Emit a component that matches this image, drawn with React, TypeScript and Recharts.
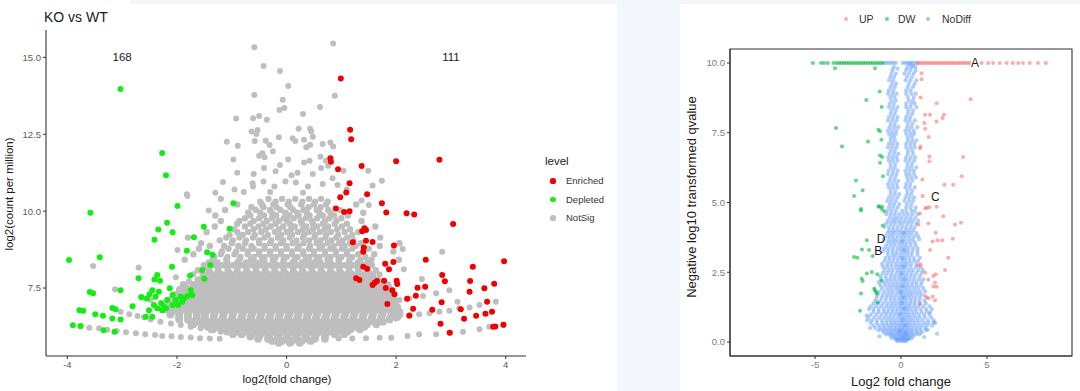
import React from "react";
import { ScatterChart, Scatter, XAxis, YAxis, ReferenceArea } from "recharts";

type Pt = { x: number; y: number };
type Tag = { x: number; y: number; label: string };

// ---------- left panel: KO vs WT ----------
const xTicksLeft = [-4, -2, 0, 2, 4];
const yTicksLeft = [7.5, 10, 12.5, 15];

const countLabels: Tag[] = [
  { x: -3, y: 15, label: "168" },
  { x: 3, y: 15, label: "111" },
];

const depleted: number[][] = [
  [-3.03, 13.97], [-2.27, 11.89], [-2.2, 11.17],
  [-3.58, 9.95], [-3.97, 8.41], [-3.41, 8.5], [-1.99, 10.17], [-0.97, 10.26],
  [-2.18, 9.62], [-2.34, 9.4], [-2.08, 9.31], [-2.41, 9.07], [-1.69, 9.15],
  [-1.51, 9.49], [-1.04, 9.43], [-1.82, 8.71], [-1.45, 8.66], [-1.35, 8.58],
  [-1.39, 8.25], [-1.54, 8.09], [-2.09, 8.19], [-1.76, 7.91], [-1.5, 7.8],
  [-2.7, 7.82], [-2.41, 7.78], [-2.36, 7.92], [-2.31, 7.74], [-3.03, 7.43],
  [-3.59, 7.37], [-3.53, 7.33], [-2.81, 6.91], [-3.78, 6.78], [-3.71, 6.76],
  [-3.49, 6.65], [-3.35, 6.6], [-3.18, 6.85], [-3.12, 6.81], [-3.18, 6.51],
  [-3.03, 6.48], [-3.9, 6.29], [-3.76, 6.26], [-3.34, 6.13], [-3.14, 6.08],
  [-2.55, 7.16], [-2.5, 7.3], [-2.45, 7.43], [-2.39, 7.22], [-2.33, 7.38],
  [-2.28, 7.0], [-2.24, 6.89], [-2.18, 7.11], [-2.13, 7.49], [-2.08, 7.27],
  [-2.02, 7.11], [-1.98, 6.95], [-1.93, 7.22], [-1.87, 7.16], [-1.81, 7.24],
  [-1.75, 7.43], [-2.42, 6.95], [-2.36, 6.84], [-2.51, 6.78], [-2.45, 6.57],
  [-2.27, 6.78], [-2.2, 6.84], [-2.08, 6.95], [-1.9, 7.05], [-1.72, 7.27],
  [-2.65, 7.2], [-2.57, 6.57],
];

const enriched: number[][] = [
  [0.99, 14.31], [1.16, 12.65], [1.18, 12.34], [0.8, 11.72], [0.81, 11.61],
  [0.94, 11.36], [1.37, 11.47], [2.0, 11.62], [2.79, 11.67], [1.15, 10.91],
  [1.09, 10.61], [1.47, 10.55], [0.98, 10.45], [1.74, 10.26], [0.9, 10.09],
  [1.05, 9.97], [1.15, 10.0], [1.82, 9.96], [2.19, 9.93], [2.33, 9.89],
  [3.04, 9.58], [1.42, 9.44], [1.45, 9.39], [1.38, 9.35], [1.21, 8.99],
  [1.45, 9.04], [1.57, 9.0], [1.41, 8.82], [1.4, 8.68], [1.96, 8.88],
  [2.54, 8.42], [3.97, 8.37], [1.8, 8.29], [1.95, 8.35], [1.87, 8.11],
  [1.4, 8.19], [1.47, 8.13], [3.4, 8.19], [2.84, 7.92], [2.89, 7.72],
  [1.27, 7.82], [1.33, 7.76], [1.61, 7.67], [1.65, 7.73], [1.57, 7.6],
  [1.78, 7.74], [1.81, 7.5], [2.01, 7.74], [2.02, 7.63], [1.93, 7.43],
  [1.97, 7.3], [2.39, 7.51], [2.53, 7.54], [2.36, 7.25], [3.35, 7.73],
  [3.34, 7.38], [3.61, 7.49], [3.79, 7.64], [3.66, 7.05], [2.83, 7.04],
  [2.2, 7.15], [1.84, 6.98], [2.31, 6.83], [2.66, 6.79], [2.24, 6.61],
  [3.18, 6.81], [3.24, 6.5], [3.46, 6.6], [3.63, 6.66], [3.75, 6.73],
  [2.81, 6.34], [3.77, 6.24], [3.81, 6.25], [3.96, 6.31], [2.98, 6.05],
];

const notSigScattered: number[][] = [
  [-0.59, 15.33], [-0.42, 14.72], [-0.59, 13.78], [-0.92, 13.01], [-0.61, 13.02],
  [-0.5, 13.09], [-0.36, 12.97], [-0.64, 12.59], [-0.53, 12.64], [-0.55, 12.51],
  [-1.09, 12.26], [-0.89, 12.13], [-0.58, 12.28], [-0.38, 12.29], [-0.31, 12.15],
  [-0.97, 11.68], [-0.44, 11.88], [-0.5, 11.8], [-0.4, 11.75], [-0.9, 11.25],
  [-0.6, 11.21], [-0.41, 11.4], [-1.16, 10.95], [-0.62, 10.91], [-0.42, 10.96],
  [-0.61, 10.8], [-0.22, 10.8], [-1.82, 10.55], [-0.25, 11.95], [-0.2, 11.3],
  [-0.95, 10.7], [-0.78, 10.62], [-1.3, 10.6],
  [0.85, 15.45], [-0.12, 14.56], [0.03, 14.07], [0.88, 13.75], [-0.07, 13.62],
  [-0.13, 13.29], [-0.04, 13.35], [0.61, 13.39], [0.3, 13.16], [0.22, 12.68],
  [0.43, 12.68], [0.45, 12.6], [-0.14, 12.4], [0.11, 12.37], [0.16, 12.28],
  [0.32, 12.32], [0.48, 12.42], [0.36, 12.08], [0.43, 12.16], [0.66, 12.18],
  [0.8, 12.23], [0.85, 12.1], [0.03, 11.68], [-0.12, 11.5], [0.32, 11.58],
  [0.42, 11.64], [0.62, 11.77], [0.72, 11.64], [1.04, 11.31], [1.49, 11.31],
  [1.74, 10.99], [0.09, 11.17], [0.2, 11.25], [0.48, 11.21], [0.63, 11.4],
  [0.76, 11.48], [-0.02, 10.96], [0.17, 10.93], [0.39, 10.8], [0.66, 10.88],
  [0.84, 11.07], [0.93, 10.85], [1.57, 10.83], [1.37, 10.35], [1.5, 10.2],
  [1.1, 10.7], [-0.3, 10.62], [0.3, 10.6],
  [-3.53, 8.22], [-3.13, 7.46], [-2.7, 8.17], [-1.99, 8.74], [-1.81, 10.49],
  [-1.42, 10.02], [-2.02, 7.85], [-1.7, 7.95], [-1.78, 7.72], [1.7, 7.95], [1.76, 7.7],
  [-3.76, 6.27], [-3.6, 6.21], [-3.42, 6.19], [-3.27, 6.14], [-3.1, 6.1],
  [-2.93, 6.06], [-2.75, 6.03], [-2.58, 6.0], [-2.4, 5.97], [-2.27, 5.94],
  [-2.1, 5.93], [-1.93, 5.91], [-1.75, 5.89], [-1.58, 5.87], [-1.4, 5.86],
  [-1.22, 5.85], [-3.03, 6.73], [-2.87, 6.65], [-2.72, 6.59], [-2.6, 6.55],
  [-2.48, 6.48], [-2.3, 6.4], [-2.11, 6.35], [-1.93, 6.3], [-1.75, 6.24],
  [-1.57, 6.19], [-1.38, 6.13], [-1.2, 6.08], [-2.65, 7.22], [-2.48, 7.11],
  [-2.3, 7.02], [-2.11, 6.95], [-1.93, 6.87],
  [0.95, 5.86], [1.2, 5.86], [1.45, 5.87], [1.7, 5.88], [1.91, 5.88],
  [2.21, 5.94], [2.42, 6.0], [2.73, 6.0], [2.97, 6.05], [3.22, 6.08],
  [3.52, 6.16], [3.7, 6.24], [3.95, 6.3], [2.0, 6.51], [2.24, 6.59],
  [2.42, 6.65], [2.61, 6.68], [2.79, 6.73], [2.97, 6.76], [3.15, 6.84],
  [3.34, 6.87], [3.52, 6.95], [3.82, 7.05], [1.88, 7.0], [2.06, 7.11],
  [2.24, 7.16], [2.49, 7.24], [2.73, 7.33], [2.97, 7.43], [3.12, 7.05],
  [2.84, 8.68], [2.12, 8.77], [2.14, 8.11], [2.47, 7.79],
];

// upper, looser part of the NotSig cloud, row by row (y, then x positions)
const notSigUpperRows: [number, number[]][] = [
  [10.4, [-1.2, -0.33, -0.08, 0.16, 0.41, 0.63]],
  [10.31, [-0.48, -0.2, 0.04, 0.29, 0.52, 0.75]],
  [10.22, [-0.9, -0.45, -0.24, 0.02, 0.27, 0.5, 0.72, 1.27]],
  [10.13, [-0.64, -0.42, -0.18, 0.07, 0.4, 0.62]],
  [10.04, [-1.12, -0.56, -0.3, -0.11, 0.12, 0.31, 0.55, 0.76, 0.97]],
  [9.95, [-0.7, -0.48, -0.27, -0.02, 0.2, 0.37, 0.6, 0.8, 1.4]],
  [9.86, [-1.3, -0.66, -0.41, -0.19, 0.05, 0.22, 0.42, 0.66, 0.87, 1.12]],
  [9.77, [-0.76, -0.5, -0.26, -0.05, 0.13, 0.35, 0.56, 0.78, 1.0]],
  [9.68, [-1.2, -0.86, -0.6, -0.36, -0.14, 0.01, 0.26, 0.46, 0.7, 0.91, 1.37]],
  [9.59, [-0.9, -0.66, -0.42, -0.2, 0.06, 0.28, 0.48, 0.66, 0.88, 1.1]],
  [9.5, [-1.31, -0.76, -0.51, -0.29, -0.06, 0.15, 0.36, 0.56, 0.76, 1.01, 1.62]],
  [9.41, [-0.96, -0.6, -0.38, -0.14, 0.08, 0.3, 0.48, 0.7, 0.92, 1.16]],
  [9.32, [-1.46, -0.9, -0.7, -0.46, -0.21, 0.0, 0.21, 0.41, 0.61, 0.81, 1.06, 1.31]],
  [9.23, [-1.04, -0.8, -0.58, -0.34, -0.1, 0.1, 0.32, 0.52, 0.72, 0.94, 1.2]],
  [9.14, [-1.8, -1.1, -0.86, -0.61, -0.4, -0.16, 0.06, 0.3, 0.51, 0.71, 0.91, 1.11, 1.71]],
  [9.05, [-1.22, -0.98, -0.74, -0.5, -0.28, -0.06, 0.18, 0.41, 0.62, 0.82, 1.02, 1.22]],
  [8.96, [-1.56, -1.0, -0.76, -0.5, -0.3, -0.1, 0.11, 0.31, 0.55, 0.75, 0.96, 1.16, 1.36, 2.06]],
  [8.87, [-1.4, -1.14, -0.88, -0.64, -0.4, -0.2, 0.0, 0.22, 0.43, 0.65, 0.86, 1.06, 1.26, 1.7]],
  [8.78, [-1.6, -1.06, -0.8, -0.6, -0.4, -0.2, 0.0, 0.2, 0.41, 0.6, 0.8, 1.01, 1.2, 1.5]],
  [8.69, [-1.18, -0.92, -0.7, -0.5, -0.3, -0.1, 0.1, 0.3, 0.5, 0.7, 0.9, 1.1, 1.4, 1.95]],
  [8.6, [-1.7, -1.2, -0.95, -0.71, -0.5, -0.3, -0.1, 0.1, 0.31, 0.5, 0.7, 0.9, 1.1, 1.31, 1.6]],
  [8.51, [-1.32, -1.08, -0.84, -0.6, -0.4, -0.2, 0.0, 0.2, 0.41, 0.6, 0.8, 1.0, 1.2, 1.44]],
  [8.42, [-1.86, -1.35, -1.1, -0.86, -0.65, -0.45, -0.25, -0.05, 0.15, 0.35, 0.55, 0.75, 0.95, 1.15, 1.35, 1.55, 2.05]],
  [8.33, [-1.42, -1.26, -1.08, -0.9, -0.74, -0.56, -0.4, -0.22, -0.06, 0.11, 0.28, 0.46, 0.62, 0.8, 0.96, 1.14, 1.3, 1.48]],
  [8.24, [-1.51, -1.32, -1.17, -0.98, -0.83, -0.64, -0.49, -0.3, -0.15, 0.04, 0.19, 0.38, 0.53, 0.72, 0.87, 1.06, 1.21, 1.4, 1.56]],
  [8.16, [-1.46, -1.25, -1.08, -0.9, -0.74, -0.56, -0.4, -0.22, -0.06, 0.12, 0.28, 0.46, 0.62, 0.8, 0.96, 1.14, 1.3, 1.48]],
  [8.08, [-1.62, -1.41, -1.25, -1.07, -0.9, -0.73, -0.56, -0.39, -0.22, -0.05, 0.12, 0.29, 0.46, 0.63, 0.8, 0.97, 1.14, 1.31, 1.48, 1.63]],
];

// dense lower body of the NotSig cloud
const notSigCoreRows: [number, number[]][] = [
  [8.0, [-1.41, -1.24, -1.06, -0.9, -0.72, -0.55, -0.38, -0.21, -0.04, 0.13, 0.3, 0.47, 0.64, 0.81, 0.98, 1.15, 1.32, 1.49]],
  [7.92, [-1.52, -1.33, -1.16, -0.99, -0.81, -0.64, -0.47, -0.3, -0.13, 0.04, 0.21, 0.38, 0.55, 0.72, 0.89, 1.06, 1.23, 1.4, 1.57]],
  [7.84, [-1.51, -1.33, -1.16, -0.99, -0.82, -0.65, -0.48, -0.31, -0.14, 0.03, 0.2, 0.37, 0.54, 0.71, 0.88, 1.05, 1.22, 1.39, 1.56]],
  [7.76, [-1.61, -1.42, -1.24, -1.07, -0.9, -0.72, -0.55, -0.38, -0.21, -0.04, 0.13, 0.3, 0.47, 0.64, 0.81, 0.98, 1.15, 1.32, 1.49, 1.66]],
  [7.68, [-1.6, -1.42, -1.25, -1.08, -0.9, -0.73, -0.56, -0.39, -0.22, -0.05, 0.12, 0.29, 0.46, 0.63, 0.8, 0.97, 1.14, 1.31, 1.48, 1.65]],
  [7.6, [-1.88, -1.7, -1.51, -1.33, -1.16, -0.98, -0.81, -0.64, -0.47, -0.3, -0.12, 0.05, 0.22, 0.39, 0.56, 0.73, 0.9, 1.07, 1.24, 1.41, 1.58, 1.74, 1.84]],
  [7.52, [-1.84, -1.69, -1.51, -1.33, -1.16, -0.98, -0.81, -0.64, -0.46, -0.29, -0.12, 0.05, 0.22, 0.39, 0.56, 0.73, 0.9, 1.07, 1.24, 1.41, 1.58, 1.75, 1.86]],
  [7.44, [-1.95, -1.78, -1.6, -1.42, -1.24, -1.07, -0.89, -0.72, -0.55, -0.38, -0.21, -0.04, 0.13, 0.3, 0.47, 0.64, 0.81, 0.98, 1.15, 1.32, 1.49, 1.66, 1.83]],
  [7.36, [-1.92, -1.77, -1.6, -1.42, -1.24, -1.07, -0.89, -0.72, -0.55, -0.37, -0.2, -0.03, 0.14, 0.31, 0.48, 0.65, 0.82, 0.99, 1.16, 1.33, 1.5, 1.67, 1.86]],
  [7.28, [-2.02, -1.86, -1.68, -1.5, -1.33, -1.15, -0.98, -0.81, -0.63, -0.46, -0.29, -0.12, 0.05, 0.22, 0.39, 0.56, 0.73, 0.9, 1.07, 1.24, 1.41, 1.58, 1.75, 1.9]],
  [7.2, [-1.98, -1.85, -1.68, -1.5, -1.33, -1.15, -0.98, -0.81, -0.63, -0.46, -0.29, -0.12, 0.05, 0.22, 0.39, 0.56, 0.73, 0.9, 1.07, 1.24, 1.41, 1.58, 1.75, 1.92]],
  [7.12, [-2.1, -1.93, -1.76, -1.59, -1.41, -1.24, -1.06, -0.89, -0.72, -0.55, -0.38, -0.2, -0.03, 0.14, 0.31, 0.48, 0.65, 0.82, 0.99, 1.16, 1.33, 1.5, 1.67, 1.84, 1.96]],
  [7.04, [-2.05, -1.92, -1.75, -1.58, -1.41, -1.24, -1.06, -0.89, -0.71, -0.54, -0.37, -0.2, -0.03, 0.14, 0.31, 0.48, 0.65, 0.82, 0.99, 1.16, 1.33, 1.5, 1.67, 1.84, 1.98]],
  [6.96, [-2.16, -1.99, -1.84, -1.67, -1.5, -1.32, -1.15, -0.98, -0.8, -0.63, -0.46, -0.29, -0.12, 0.05, 0.22, 0.39, 0.56, 0.73, 0.9, 1.07, 1.24, 1.41, 1.58, 1.75, 1.92]],
  [6.88, [-2.12, -1.98, -1.83, -1.66, -1.49, -1.32, -1.15, -0.97, -0.8, -0.63, -0.46, -0.28, -0.11, 0.06, 0.23, 0.4, 0.57, 0.74, 0.91, 1.08, 1.25, 1.42, 1.59, 1.76, 1.93, 2.02]],
  [6.8, [-2.22, -2.06, -1.9, -1.75, -1.58, -1.41, -1.24, -1.06, -0.89, -0.72, -0.55, -0.37, -0.2, -0.03, 0.14, 0.31, 0.48, 0.65, 0.82, 0.99, 1.16, 1.33, 1.5, 1.67, 1.84, 2.0]],
  [6.72, [-2.1, -1.96, -1.8, -1.64, -1.48, -1.31, -1.14, -0.97, -0.8, -0.63, -0.46, -0.29, -0.11, 0.06, 0.23, 0.4, 0.57, 0.74, 0.91, 1.08, 1.25, 1.42, 1.59, 1.76, 1.93, 2.06]],
  [6.64, [-2.12, -1.96, -1.8, -1.64, -1.49, -1.32, -1.15, -0.98, -0.8, -0.63, -0.46, -0.29, -0.12, 0.05, 0.22, 0.39, 0.56, 0.73, 0.9, 1.07, 1.24, 1.41, 1.58, 1.75, 1.93, 2.06]],
  [6.56, [-1.96, -1.8, -1.64, -1.49, -1.33, -1.16, -0.99, -0.82, -0.65, -0.48, -0.31, -0.14, 0.03, 0.2, 0.37, 0.54, 0.71, 0.88, 1.05, 1.22, 1.39, 1.56, 1.73, 1.9, 2.02]],
  [6.48, [-1.96, -1.8, -1.65, -1.49, -1.33, -1.17, -1.0, -0.83, -0.66, -0.49, -0.32, -0.15, 0.02, 0.19, 0.36, 0.53, 0.7, 0.87, 1.04, 1.21, 1.38, 1.55, 1.72, 1.88]],
  [6.4, [-1.75, -1.59, -1.44, -1.28, -1.12, -0.95, -0.78, -0.61, -0.44, -0.27, -0.1, 0.07, 0.24, 0.41, 0.58, 0.75, 0.92, 1.09, 1.26, 1.43, 1.6, 1.76]],
  [6.32, [-1.7, -1.54, -1.39, -1.23, -1.07, -0.91, -0.74, -0.57, -0.4, -0.23, -0.06, 0.11, 0.28, 0.45, 0.62, 0.79, 0.96, 1.13, 1.3, 1.47, 1.64]],
  [6.24, [-1.44, -1.28, -1.12, -0.96, -0.8, -0.63, -0.46, -0.29, -0.12, 0.05, 0.22, 0.39, 0.56, 0.73, 0.9, 1.07, 1.24, 1.42]],
  [6.16, [-1.34, -1.19, -1.03, -0.87, -0.7, -0.53, -0.36, -0.19, -0.02, 0.15, 0.32, 0.49, 0.66, 0.83, 1.0, 1.17, 1.34]],
  [6.08, [-1.08, -0.92, -0.76, -0.59, -0.42, -0.25, -0.08, 0.09, 0.26, 0.43, 0.6, 0.77, 0.94, 1.11]],
  [6.0, [-0.98, -0.82, -0.65, -0.48, -0.31, -0.14, 0.03, 0.2, 0.37, 0.54, 0.71, 0.88, 1.05]],
  [5.92, [-0.66, -0.5, -0.33, -0.16, 0.01, 0.18, 0.35, 0.52, 0.7]],
  [5.85, [-0.52, -0.34, -0.17, 0.0, 0.17, 0.34, 0.52, 0.7]],
  [5.78, [-0.26, -0.08, 0.1, 0.28, 0.44]],
  [5.72, [-0.14, 0.06, 0.24]],
];

// ---------- right panel: qvalue volcano ----------
const xTicksRight = [-5, 0, 5];
const yTicksRight = [0, 2.5, 5, 7.5, 10];
const capValue = 10;

const upCapX = [
  0.99, 1.12, 1.25, 1.38, 1.51, 1.64, 1.77, 1.9, 2.03, 2.16, 2.29, 2.42, 2.55,
  2.68, 2.81, 2.94, 3.07, 3.2, 3.33, 3.46, 3.59, 3.72, 3.85, 3.98, 4.69, 5.07,
  5.36, 5.75, 6.14, 6.5, 6.82, 7.1, 7.49, 7.97, 8.43,
];
const dwCapX = [
  -5.13, -4.65, -4.48, -4.26, -3.93, -3.74, -3.6, -3.46, -3.32, -3.18, -3.04,
  -2.9, -2.76, -2.62, -2.48, -2.34, -2.2, -2.06, -1.92, -1.78, -1.64, -1.5,
  -1.36, -1.22, -1.08,
];
const noDiffCapX = [-1.0, -0.86, -0.72, -0.58, -0.44, -0.3, 0.1, 0.24, 0.38, 0.52, 0.66, 0.8, 0.94];

const upPoints: number[][] = [
  [1.2, 9.63], [1.2, 9.42], [1.14, 8.76], [2.07, 8.56], [4.05, 8.7], [1.4, 8.14],
  [1.69, 8.14], [2.5, 8.14], [2.42, 8.03], [2.07, 7.9], [1.36, 7.85], [1.41, 7.64],
  [1.61, 7.35], [1.14, 7.01], [1.1, 6.94], [1.65, 6.65], [1.65, 6.48], [3.62, 6.63],
  [3.53, 5.94], [1.24, 5.82], [2.52, 5.64], [3.04, 5.64], [1.26, 5.23], [1.49, 4.81],
  [2.07, 4.85], [1.41, 4.79], [1.65, 4.83], [2.46, 4.51], [1.1, 4.61], [1.59, 4.25],
  [1.01, 4.21], [3.14, 4.21], [3.49, 4.27], [2.02, 3.92], [2.4, 3.65], [2.13, 3.65],
  [1.84, 3.6], [3.01, 3.7], [1.69, 3.3], [2.75, 3.02], [1.03, 2.73], [1.14, 2.79],
  [2.56, 2.58], [1.4, 2.49], [1.88, 2.37], [2.02, 2.43], [1.59, 2.23], [1.98, 2.13],
  [1.88, 1.99], [2.07, 1.98], [1.4, 1.65], [1.59, 1.57], [1.84, 1.63], [1.98, 1.5],
  [1.1, 1.36],
];

const dwPoints: number[][] = [
  [-3.84, 9.81], [-1.51, 9.81], [-1.24, 8.98], [-2.02, 8.67], [-1.12, 8.42],
  [-3.78, 7.67], [-1.32, 7.61], [-1.22, 7.55], [-1.14, 7.25], [-1.92, 7.19],
  [-3.43, 7.01], [-1.22, 6.68], [-1.1, 6.63], [-1.22, 6.42], [-1.05, 5.94],
  [-2.62, 5.79], [-2.23, 5.44], [-2.73, 5.23], [-1.3, 4.87], [-1.1, 4.85],
  [-2.33, 4.77], [-2.33, 4.71], [-1.28, 4.85], [-1.12, 4.77], [-0.99, 4.69],
  [-1.06, 4.18], [-1.99, 3.65], [-2.27, 3.32], [-1.86, 3.3], [-2.73, 3.05],
  [-2.54, 3.02], [-1.65, 3.08], [-1.99, 2.46], [-1.7, 2.51], [-1.38, 2.43],
  [-1.14, 2.2], [-2.29, 2.27], [-2.23, 2.19], [-1.55, 1.92], [-1.45, 1.8],
  [-1.41, 1.74], [-1.53, 1.86], [-2.33, 1.74], [-1.36, 1.42], [-2.38, 1.12],
];

const noDiffScattered: number[][] = [
  [0.5, 9.95], [0.7, 9.9], [0.85, 9.72], [0.2, 9.62], [-0.2, 9.8],
  [0.12, 3.9], [0.05, 3.6], [0.18, 3.3], [0.08, 3.0], [0.15, 2.7], [0.02, 2.45],
  [0.2, 2.25], [0.1, 2.0], [0.0, 1.8], [0.15, 1.6], [0.05, 1.4], [0.2, 1.2],
  [-0.05, 1.0], [0.1, 0.8], [0.25, 0.6], [-0.1, 0.4], [0.3, 0.3], [0.12, 0.15],
  [-0.2, 0.1], [0.45, 0.1], [1.69, 1.06], [1.9, 0.7], [1.55, 0.45], [-2.0, 0.95],
  [-1.8, 0.5], [2.1, 0.3], [1.35, 0.18], [-1.25, 0.2],
];

const noDiffRows: [number, number[]][] = [
  [9.85, [-0.42, 0.36, 0.6, 0.84]],
  [9.74, [-0.5, 0.3, 0.55]],
  [9.62, [-0.56, -0.3, 0.46, 0.74]],
  [9.5, [-0.62, -0.4, 0.35, 0.64]],
  [9.38, [-0.7, -0.46, 0.26, 0.55, 0.9]],
  [9.26, [-0.52, -0.28, 0.46, 0.8]],
  [9.14, [-0.6, -0.36, 0.4, 0.7]],
  [9.02, [-0.7, -0.44, 0.3, 0.56]],
  [8.9, [-0.76, -0.5, -0.26, 0.3, 0.6, 0.86]],
  [8.78, [-0.62, -0.38, 0.4, 0.74]],
  [8.66, [-0.56, -0.3, 0.45, 0.7]],
  [8.54, [-0.66, -0.42, 0.3, 0.58, 0.8]],
  [8.42, [-0.7, -0.45, -0.2, 0.3, 0.55, 0.9]],
  [8.3, [-0.56, -0.3, 0.42, 0.7]],
  [8.18, [-0.6, -0.36, 0.4, 0.66]],
  [8.06, [-0.7, -0.46, -0.2, 0.3, 0.54]],
  [7.94, [-0.76, -0.5, -0.26, 0.26, 0.5, 0.8]],
  [7.82, [-0.6, -0.36, 0.4, 0.66]],
  [7.7, [-0.66, -0.4, -0.16, 0.36, 0.6, 0.95]],
  [7.58, [-0.76, -0.52, -0.28, 0.26, 0.48, 0.74]],
  [7.46, [-0.7, -0.5, -0.3, 0.3, 0.55, 0.76]],
  [7.34, [-0.6, -0.4, 0.4, 0.64]],
  [7.22, [-0.6, -0.36, 0.4, 0.65, 0.9]],
  [7.1, [-0.7, -0.48, -0.22, 0.3, 0.54, 0.78]],
  [6.98, [-0.76, -0.5, -0.26, 0.3, 0.56, 0.8]],
  [6.86, [-0.6, -0.36, 0.4, 0.66]],
  [6.74, [-0.66, -0.4, -0.16, 0.4, 0.7]],
  [6.62, [-0.74, -0.5, -0.26, 0.3, 0.56, 0.82]],
  [6.5, [-0.7, -0.46, -0.2, 0.26, 0.5, 0.76]],
  [6.38, [-0.6, -0.34, 0.38, 0.64]],
  [6.26, [-0.6, -0.36, 0.36, 0.6, 0.9]],
  [6.14, [-0.72, -0.46, -0.2, 0.26, 0.5, 0.74]],
  [6.02, [-0.76, -0.5, -0.26, 0.3, 0.5, 0.76]],
  [5.9, [-0.6, -0.34, 0.36, 0.6, 0.86]],
  [5.78, [-0.66, -0.4, -0.16, 0.4, 0.66]],
  [5.66, [-0.76, -0.5, -0.26, 0.3, 0.54]],
  [5.54, [-0.7, -0.46, -0.2, 0.26, 0.5, 0.8]],
  [5.42, [-0.6, -0.34, 0.36, 0.64]],
  [5.3, [-0.6, -0.36, -0.1, 0.36, 0.6]],
  [5.18, [-0.7, -0.46, -0.2, 0.26, 0.5, 0.76]],
  [5.06, [-0.8, -0.56, -0.3, 0.2, 0.46, 0.7]],
  [4.94, [-0.64, -0.4, -0.1, 0.34, 0.6]],
  [4.82, [-0.7, -0.46, -0.2, 0.3, 0.56, 0.86]],
  [4.7, [-0.8, -0.56, -0.3, 0.06, 0.3, 0.6, 0.8]],
  [4.58, [-0.86, -0.6, -0.36, -0.1, 0.16, 0.4, 0.66, 0.96]],
  [4.46, [-0.64, -0.4, -0.2, 0.04, 0.3, 0.56, 0.84]],
  [4.35, [-0.76, -0.5, -0.3, -0.06, 0.2, 0.46, 0.7, 1.0]],
  [4.24, [-0.86, -0.6, -0.36, -0.1, 0.1, 0.36, 0.6, 0.9]],
  [4.12, [-0.96, -0.7, -0.46, -0.2, 0.06, 0.3, 0.56, 0.8]],
  [4.0, [-0.7, -0.46, -0.24, 0.0, 0.26, 0.48, 0.72]],
  [3.9, [-0.8, -0.56, -0.36, -0.1, 0.16, 0.36, 0.6, 0.9]],
  [3.79, [-0.9, -0.66, -0.46, -0.2, 0.04, 0.26, 0.5, 0.76, 1.0]],
  [3.68, [-1.0, -0.7, -0.46, -0.26, 0.0, 0.2, 0.46, 0.7, 1.06]],
  [3.57, [-0.76, -0.56, -0.36, -0.14, 0.1, 0.32, 0.56, 0.8]],
  [3.46, [-0.86, -0.6, -0.36, -0.1, 0.1, 0.3, 0.56, 0.86]],
  [3.35, [-0.96, -0.74, -0.48, -0.2, 0.0, 0.2, 0.42, 0.7, 0.96]],
  [3.24, [-1.06, -0.76, -0.5, -0.26, 0.0, 0.2, 0.4, 0.66, 0.96]],
  [3.13, [-0.76, -0.5, -0.3, -0.06, 0.16, 0.38, 0.62, 0.96]],
  [3.02, [-0.9, -0.66, -0.4, -0.16, 0.06, 0.26, 0.5, 0.76, 1.1]],
  [2.91, [-0.96, -0.7, -0.46, -0.2, 0.06, 0.26, 0.5, 0.76, 1.0]],
  [2.8, [-1.1, -0.8, -0.56, -0.3, -0.06, 0.16, 0.36, 0.6, 0.9]],
  [2.69, [-1.04, -0.8, -0.56, -0.3, -0.1, 0.1, 0.3, 0.56, 0.86, 1.16]],
  [2.58, [-0.96, -0.7, -0.46, -0.2, 0.0, 0.2, 0.46, 0.7, 1.0, 1.26]],
  [2.47, [-1.06, -0.8, -0.54, -0.26, -0.04, 0.16, 0.38, 0.62, 0.9, 1.2]],
  [2.36, [-1.2, -0.9, -0.6, -0.36, -0.1, 0.1, 0.3, 0.56, 0.8, 1.1]],
  [2.25, [-1.16, -0.86, -0.62, -0.38, -0.14, 0.06, 0.28, 0.5, 0.76, 1.04, 1.3]],
  [2.14, [-1.3, -1.0, -0.76, -0.5, -0.26, 0.0, 0.2, 0.4, 0.66, 0.9, 1.2]],
  [2.03, [-1.2, -0.92, -0.66, -0.42, -0.2, 0.0, 0.2, 0.4, 0.64, 0.9, 1.16]],
  [1.92, [-1.1, -0.8, -0.56, -0.3, -0.1, 0.1, 0.3, 0.5, 0.76, 1.0, 1.3]],
  [1.81, [-1.26, -0.96, -0.7, -0.46, -0.2, 0.0, 0.2, 0.4, 0.62, 0.86, 1.1, 1.4]],
  [1.7, [-1.36, -1.06, -0.8, -0.56, -0.3, -0.06, 0.1, 0.3, 0.5, 0.7, 0.96, 1.2]],
  [1.59, [-1.42, -1.12, -0.86, -0.62, -0.4, -0.16, 0.04, 0.2, 0.4, 0.6, 0.84, 1.1, 1.5]],
  [1.48, [-1.5, -1.2, -0.9, -0.6, -0.36, -0.1, 0.1, 0.3, 0.56, 0.8, 1.06, 1.36]],
  [1.38, [-1.6, -1.34, -1.04, -0.76, -0.5, -0.26, -0.04, 0.16, 0.36, 0.56, 0.8, 1.1, 1.44]],
  [1.28, [-1.76, -1.46, -1.16, -0.86, -0.6, -0.36, -0.1, 0.1, 0.3, 0.5, 0.76, 1.0, 1.3, 1.66]],
  [1.18, [-1.86, -1.6, -1.3, -1.0, -0.72, -0.48, -0.22, 0.0, 0.2, 0.4, 0.6, 0.86, 1.14, 1.46, 1.8]],
  [1.08, [-1.6, -1.3, -1.0, -0.76, -0.5, -0.26, 0.0, 0.2, 0.4, 0.66, 0.9, 1.2, 1.5]],
  [0.98, [-1.76, -1.44, -1.14, -0.86, -0.6, -0.36, -0.12, 0.1, 0.3, 0.5, 0.76, 1.04, 1.34, 1.66]],
  [0.88, [-1.9, -1.56, -1.26, -0.96, -0.7, -0.46, -0.2, 0.0, 0.2, 0.4, 0.6, 0.86, 1.1, 1.4, 1.76]],
  [0.78, [-1.96, -1.7, -1.4, -1.1, -0.82, -0.58, -0.34, -0.1, 0.1, 0.3, 0.5, 0.7, 0.96, 1.24, 1.56, 1.9]],
  [0.68, [-1.76, -1.4, -1.1, -0.86, -0.6, -0.4, -0.2, 0.0, 0.16, 0.36, 0.56, 0.8, 1.06, 1.36, 1.6, 2.0]],
  [0.59, [-1.6, -1.3, -1.02, -0.78, -0.56, -0.32, -0.1, 0.08, 0.26, 0.46, 0.7, 0.96, 1.22, 1.5, 1.8]],
  [0.5, [-1.5, -1.2, -0.96, -0.7, -0.5, -0.3, -0.1, 0.06, 0.2, 0.4, 0.6, 0.86, 1.1, 1.4]],
  [0.42, [-1.3, -1.06, -0.84, -0.62, -0.42, -0.22, -0.04, 0.12, 0.28, 0.46, 0.66, 0.9, 1.16, 1.46]],
  [0.34, [-1.0, -0.76, -0.56, -0.36, -0.16, 0.0, 0.16, 0.3, 0.5, 0.7, 0.96, 1.2]],
  [0.27, [-0.86, -0.66, -0.46, -0.26, -0.08, 0.08, 0.24, 0.4, 0.6, 0.84, 1.06]],
  [0.2, [-0.6, -0.4, -0.2, 0.0, 0.16, 0.3, 0.5, 0.7]],
  [0.14, [-0.5, -0.3, -0.1, 0.08, 0.24, 0.42, 0.6]],
  [0.08, [-0.3, -0.1, 0.06, 0.2, 0.36]],
  [0.03, [-0.2, 0.0, 0.14, 0.28]],
];

const geneTags: Tag[] = [
  { x: 4.3, y: 10, label: "A" },
  { x: 2.0, y: 5.2, label: "C" },
  { x: -1.16, y: 3.7, label: "D" },
  { x: -1.32, y: 3.26, label: "B" },
];

const pairs = (list: number[][]): Pt[] => list.map(([x, y]) => ({ x, y }));
const rows = (list: [number, number[]][]): Pt[] =>
  list.flatMap(([y, xs]) => xs.map((x) => ({ x, y })));
const cap = (xs: number[]): Pt[] => xs.map((x) => ({ x, y: capValue }));

const dot = (r: number, fill: string, opacity = 1) => (p: any) => (
  <circle cx={p.cx} cy={p.cy} r={r} fill={fill} fillOpacity={opacity} />
);
const tagText = (size: number) => (p: any) => (
  <text x={p.cx} y={p.cy} textAnchor="middle" dominantBaseline="central" fontSize={size} fill="#1a1a1a">
    {p.payload.label}
  </text>
);

const FONT = '"Liberation Sans", Arial, Helvetica, sans-serif';

function Txt({ x, y, size, children, color = "#1a1a1a", center = false, rotate = false }: any) {
  const tf = rotate
    ? "translate(-50%, -50%) rotate(-90deg)"
    : center
    ? "translate(-50%, -50%)"
    : "translate(0, -50%)";
  return (
    <div style={{ position: "absolute", left: x, top: y, fontSize: size, color, lineHeight: 1, whiteSpace: "nowrap", transform: tf }}>
      {children}
    </div>
  );
}

function Swatch({ x, y, r, color, opacity = 1 }: any) {
  return (
    <div style={{ position: "absolute", left: x - r, top: y - r, width: r * 2, height: r * 2, borderRadius: "50%", background: color, opacity }} />
  );
}

const C_RED = "#f20000";
const C_GREEN = "#12ee12";
const C_GREY = "#bebebe";
const C_UP = "#F8766D";
const C_DW = "#00BA38";
const C_ND = "#619CFF";

export default function App() {
  const axisTick = { fontSize: 9.5, fill: "#5a5a5a" };
  return (
    <div style={{ position: "fixed", left: 0, top: 0, width: 1080, height: 391, background: "#f3f7fb", overflow: "hidden", fontFamily: FONT }}>
      <div style={{ position: "absolute", left: 0, top: 0, width: 130, height: 391, background: "#fff" }} />
      <div style={{ position: "absolute", left: 0, top: 4, width: 617, height: 387, background: "#fff" }} />
      <div style={{ position: "absolute", left: 680, top: 4, width: 400, height: 387, background: "#fff" }} />

      {/* left panel */}
      <div style={{ position: "absolute", left: 0, top: 0 }}>
        <ScatterChart width={540} height={391} margin={{ top: 30, right: 14, bottom: 10, left: 6 }}>
          <XAxis
            type="number"
            dataKey="x"
            domain={[-4.39, 4.37]}
            ticks={xTicksLeft}
            allowDataOverflow
            height={25}
            tick={axisTick}
            tickSize={3}
            tickMargin={2}
            axisLine={{ stroke: "#333", strokeWidth: 1.1 }}
            tickLine={{ stroke: "#333" }}
          />
          <YAxis
            type="number"
            dataKey="y"
            domain={[5.29, 15.89]}
            ticks={yTicksLeft}
            allowDataOverflow
            width={40}
            tick={axisTick}
            tickSize={3}
            tickMargin={2}
            tickFormatter={(v: number) => v.toFixed(1)}
            axisLine={{ stroke: "#333", strokeWidth: 1.1 }}
            tickLine={{ stroke: "#333" }}
          />
          <Scatter data={rows(notSigCoreRows)} shape={dot(3.9, C_GREY)} isAnimationActive={false} />
          <Scatter data={rows(notSigUpperRows)} shape={dot(3.2, C_GREY)} isAnimationActive={false} />
          <Scatter data={pairs(notSigScattered)} shape={dot(3, C_GREY)} isAnimationActive={false} />
          <Scatter data={pairs(depleted)} shape={dot(3, C_GREEN)} isAnimationActive={false} />
          <Scatter data={pairs(enriched)} shape={dot(3, C_RED)} isAnimationActive={false} />
          <Scatter data={countLabels} shape={tagText(11.5)} isAnimationActive={false} />
        </ScatterChart>
      </div>
      <Txt x={44} y={17} size={14}>KO vs WT</Txt>
      <Txt x={10} y={194} size={11.5} rotate>log2(count per million)</Txt>
      <Txt x={287} y={380} size={11.5} center>log2(fold change)</Txt>

      <Txt x={545} y={162} size={11.5}>level</Txt>
      <Swatch x={553} y={181} r={2.6} color={C_RED} />
      <Txt x={566} y={181} size={9.5} color="#333">Enriched</Txt>
      <Swatch x={553} y={199.5} r={2.6} color={C_GREEN} />
      <Txt x={566} y={199.5} size={9.5} color="#333">Depleted</Txt>
      <Swatch x={553} y={218} r={2.6} color={C_GREY} />
      <Txt x={566} y={218} size={9.5} color="#333">NotSig</Txt>

      {/* right panel */}
      <div style={{ position: "absolute", left: 660, top: 0 }}>
        <ScatterChart width={420} height={391} margin={{ top: 49, right: 8, bottom: 10, left: 0 }}>
          <XAxis
            type="number"
            dataKey="x"
            domain={[-9.95, 9.95]}
            ticks={xTicksRight}
            allowDataOverflow
            height={25}
            tick={{ fontSize: 9.5, fill: "#7a7a7a" }}
            tickSize={3}
            tickMargin={2}
            axisLine={{ stroke: "#333", strokeWidth: 1.1 }}
            tickLine={{ stroke: "#333" }}
          />
          <YAxis
            type="number"
            dataKey="y"
            domain={[-0.5, 10.5]}
            ticks={yTicksRight}
            allowDataOverflow
            width={70}
            tick={{ fontSize: 9.5, fill: "#7a7a7a" }}
            tickSize={3}
            tickMargin={2}
            tickFormatter={(v: number) => v.toFixed(1)}
            axisLine={{ stroke: "#333", strokeWidth: 1.1 }}
            tickLine={{ stroke: "#333" }}
          />
          <ReferenceArea x1={-9.95} x2={9.95} y1={-0.5} y2={10.5} fill="none" stroke="#333" strokeWidth={1.1} />
          <Scatter
            data={[...rows(noDiffRows), ...pairs(noDiffScattered), ...cap(noDiffCapX)]}
            shape={dot(2.1, C_ND, 0.5)}
            isAnimationActive={false}
          />
          <Scatter data={[...pairs(dwPoints), ...cap(dwCapX)]} shape={dot(2, C_DW, 0.6)} isAnimationActive={false} />
          <Scatter data={[...pairs(upPoints), ...cap(upCapX)]} shape={dot(2, C_UP, 0.6)} isAnimationActive={false} />
          <Scatter data={geneTags} shape={tagText(12)} isAnimationActive={false} />
        </ScatterChart>
      </div>
      <Swatch x={846} y={19} r={2} color={C_UP} opacity={0.6} />
      <Txt x={859} y={19} size={10.5} color="#333">UP</Txt>
      <Swatch x={887} y={19} r={2} color={C_DW} opacity={0.6} />
      <Txt x={898} y={19} size={10.5} color="#333">DW</Txt>
      <Swatch x={928} y={19} r={2} color={C_ND} opacity={0.6} />
      <Txt x={942} y={19} size={10.5} color="#333">NoDiff</Txt>
      <Txt x={691} y={197} size={13} rotate>Negative log10 transformed qvalue</Txt>
      <Txt x={901} y={381} size={13} center>Log2 fold change</Txt>
    </div>
  );
}
